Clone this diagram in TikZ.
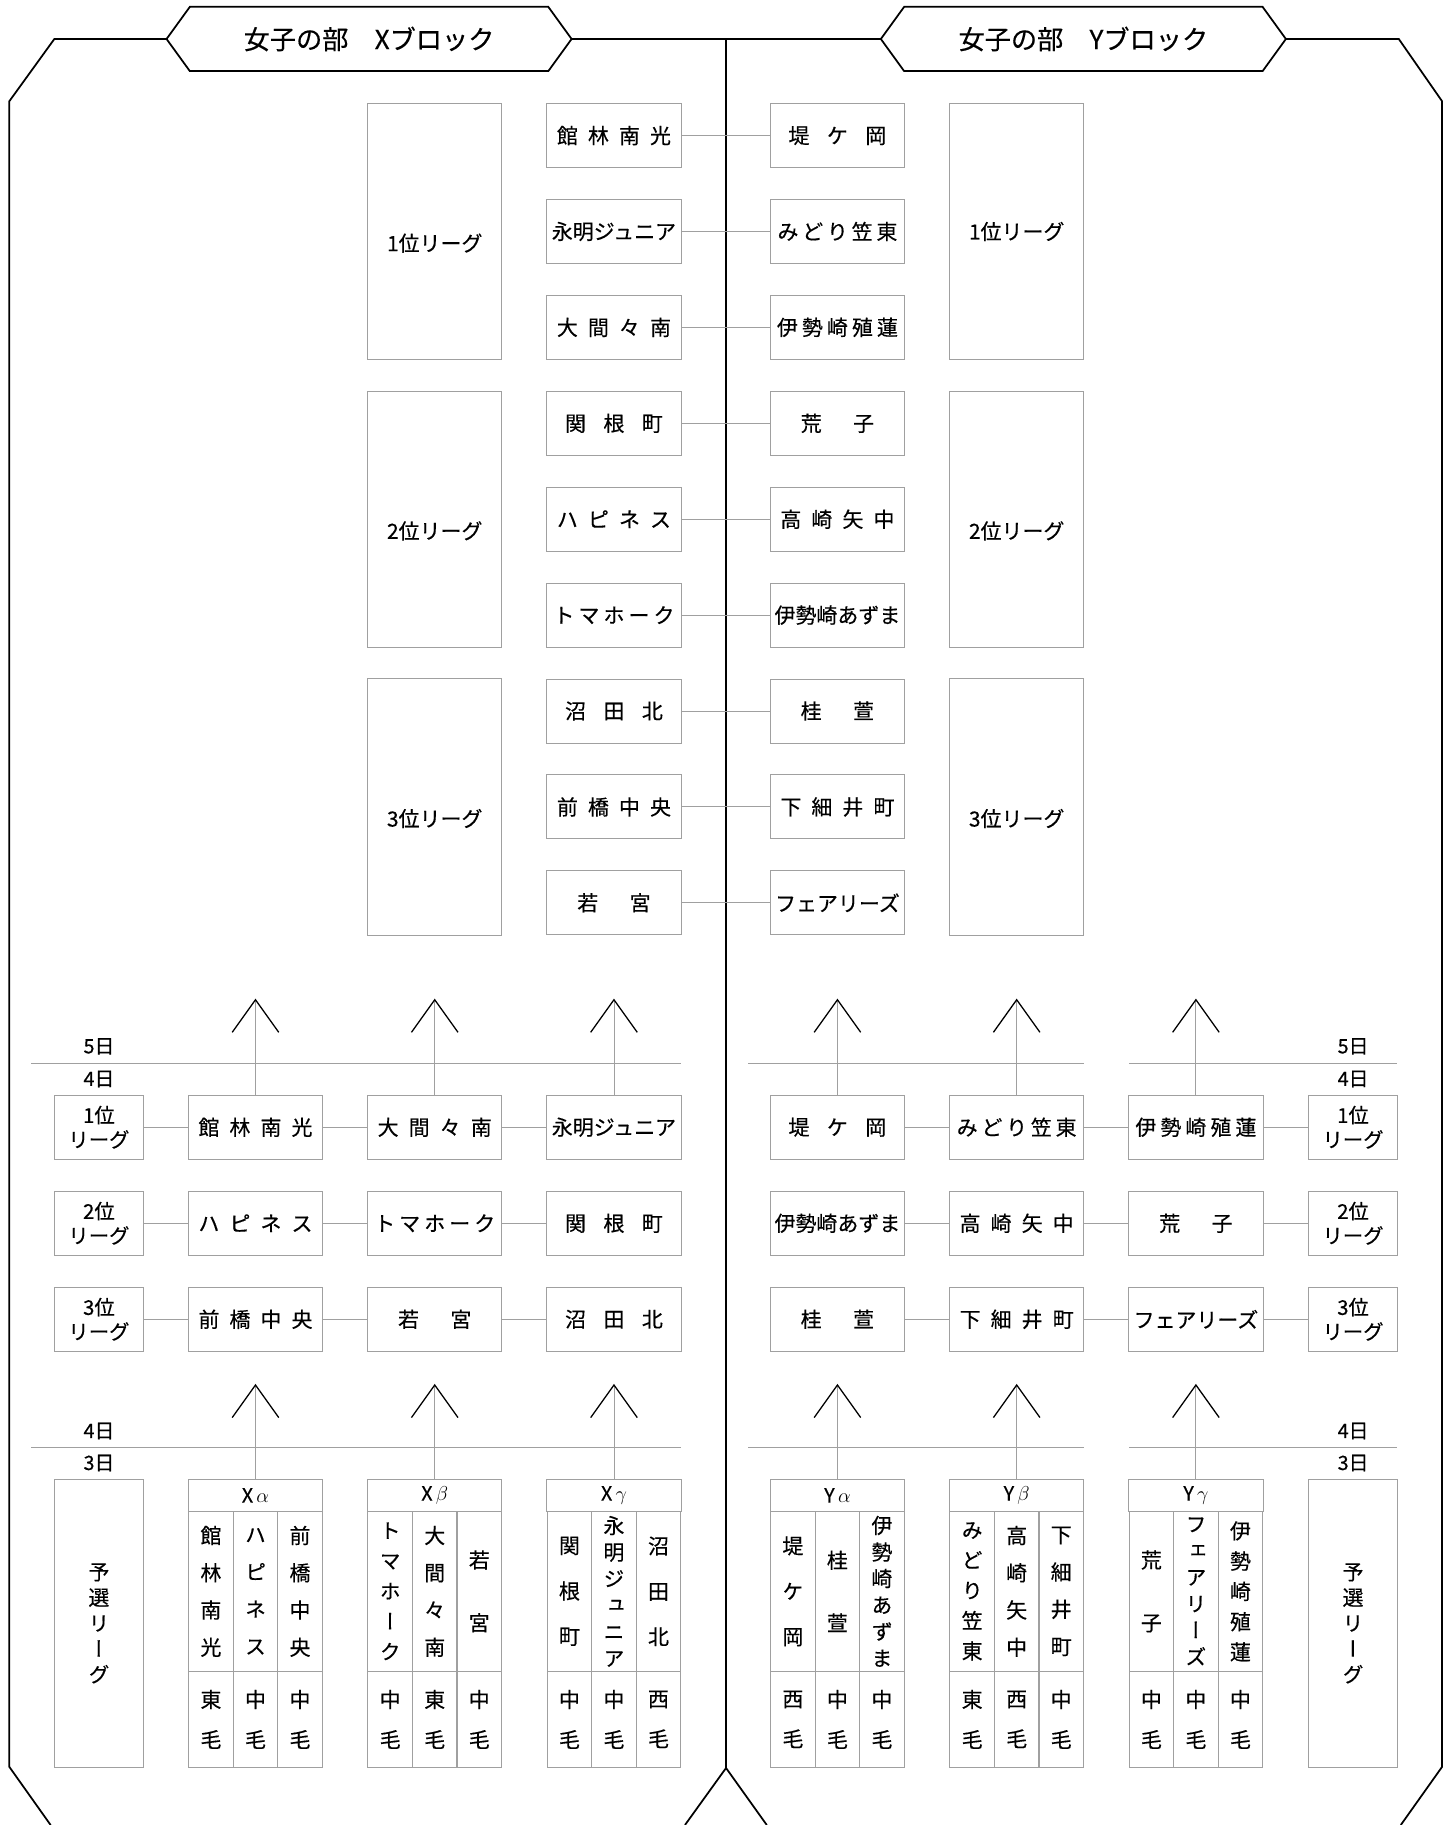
\documentclass[tikz,border=0pt]{standalone}
\usepackage{fontspec}
\newfontfamily\jp[FakeBold=0.4]{Noto Sans CJK JP}
\newfontfamily\jpv[RawFeature=+vert,FakeBold=0.4]{Noto Sans CJK JP}
\usetikzlibrary{arrows.meta}
\definecolor{linegray}{RGB}{160,160,160}
\newcommand\spr[2]{\makebox[#1pt][s]{\spaceskip=0pt plus 1fil\relax#2}}
\newcommand\low[1]{\raisebox{-10pt}[\height][\depth]{#1}}
\tikzset{
  blockline/.style={line width=1.5pt, line join=miter},
  ttl/.style={rectangle, minimum width=308pt, minimum height=55.2pt, inner sep=0pt,
              outer sep=0pt, font=\jp\fontsize{22.5}{26}\selectfont},
  team/.style={draw=linegray, line width=0.8pt, rectangle, minimum width=115.5pt,
               minimum height=55pt, inner sep=0pt, font=\jp\fontsize{18}{21}\selectfont},
  league/.style={team, minimum height=220pt},
  rank/.style={team, minimum width=77pt, align=center, font=\jp\fontsize{17.5}{21}\selectfont},
  ghead/.style={team, minimum height=27.5pt, font=\jp\fontsize{17}{20}\selectfont},
  gcol/.style={team, minimum width=38.5pt, minimum height=137.5pt, align=center,
               font=\jpv\fontsize{18}{#1}\selectfont},
  greg/.style={gcol=34.4, minimum height=82.5pt},
  prelim/.style={gcol=22, minimum width=77pt, minimum height=247.5pt},
  day/.style={inner sep=0pt, font=\jp\fontsize{17}{20}\selectfont},
  link/.style={draw=linegray, line width=0.8pt},
  adv/.style={draw=linegray, line width=0.8pt,
              -{Straight Barb[length=28pt, width=40pt, line width=1.1pt, color=black]}},
}
\begin{document}
\begin{tikzpicture}[x=1pt, y=-1pt]
  \useasboundingbox (0,0) rectangle (1249,1568);
  % block titles and outline
  \node[ttl] (ttlX) at (317.1,33.5) {女子の部　Xブロック};
  \node[ttl] (ttlY) at (930.8,33.5) {女子の部　Yブロック};
  \draw[blockline] (ttlX.north west) -- (ttlX.north east) -- ([xshift=20pt]ttlX.east)
    -- (ttlX.south east) -- (ttlX.south west) -- ([xshift=-20pt]ttlX.west) -- cycle;
  \draw[blockline] (ttlY.north west) -- (ttlY.north east) -- ([xshift=20pt]ttlY.east)
    -- (ttlY.south east) -- (ttlY.south west) -- ([xshift=-20pt]ttlY.west) -- cycle;
  \draw[blockline] ([xshift=-20pt]ttlX.west) -- (46.7,33.5) -- (8,87) -- (8,1518) -- (43.5,1568);
  \draw[blockline] ([xshift=20pt]ttlX.east) -- ([xshift=-20pt]ttlY.west);
  \draw[blockline] ([xshift=20pt]ttlY.east) -- (1201.8,33.5) -- (1239,87) -- (1239,1518) -- (1203.5,1568);
  \draw[blockline] (623.8,33.5) -- (623.8,1519) -- (588.5,1568);
  \draw[blockline] (623.8,1519) -- (658.8,1568);

  % final leagues
  \node[league] (lx1) at (373.5,198.9) {\low{1位リーグ}};
  \node[league] (lx2) at (373.5,446.1) {\low{2位リーグ}};
  \node[league] (lx3) at (373.5,693.3) {\low{3位リーグ}};
  \node[league] (ly1) at (873.5,198.9) {1位リーグ};
  \node[league] (ly2) at (873.5,446.1) {\low{2位リーグ}};
  \node[league] (ly3) at (873.5,693.3) {\low{3位リーグ}};

  \node[team] (sx1) at (527.5,116.5) {\spr{98}{館 林 南 光}};
  \node[team] (sx2) at (527.5,198.9) {永明ジュニア};
  \node[team] (sx3) at (527.5,281.3) {\spr{98}{大 間 々 南}};
  \node[team] (sx4) at (527.5,363.7) {\spr{84}{関 根 町}};
  \node[team] (sx5) at (527.5,446.1) {\spr{98}{ハ ピ ネ ス}};
  \node[team] (sx6) at (527.5,528.5) {\spr{104}{ト マ ホ ー ク}};
  \node[team] (sx7) at (527.5,610.9) {\spr{84}{沼 田 北}};
  \node[team] (sx8) at (527.5,693.3) {\spr{98}{前 橋 中 央}};
  \node[team] (sx9) at (527.5,775.7) {\spr{63}{若 宮}};
  \node[team] (sy1) at (719.5,116.5) {\spr{84}{堤 ケ 岡}};
  \node[team] (sy2) at (719.5,198.9) {\spr{103}{み ど り 笠 東}};
  \node[team] (sy3) at (719.5,281.3) {\spr{104}{伊 勢 崎 殖 蓮}};
  \node[team] (sy4) at (719.5,363.7) {\spr{63}{荒 子}};
  \node[team] (sy5) at (719.5,446.1) {\spr{98}{高 崎 矢 中}};
  \node[team] (sy6) at (719.5,528.5) {伊勢崎あずま};
  \node[team] (sy7) at (719.5,610.9) {\spr{63}{桂 萱}};
  \node[team] (sy8) at (719.5,693.3) {\spr{98}{下 細 井 町}};
  \node[team] (sy9) at (719.5,775.7) {フェアリーズ};
  \draw[link] (sx1) -- (sy1);
  \draw[link] (sx2) -- (sy2);
  \draw[link] (sx3) -- (sy3);
  \draw[link] (sx4) -- (sy4);
  \draw[link] (sx5) -- (sy5);
  \draw[link] (sx6) -- (sy6);
  \draw[link] (sx7) -- (sy7);
  \draw[link] (sx8) -- (sy8);
  \draw[link] (sx9) -- (sy9);

  % day 4 / day 5
  \node[day] (dx5) at (85,899) {5日};
  \node[day] (dx4) at (85,927) {4日};
  \node[day] (dy5) at (1162.5,899) {5日};
  \node[day] (dy4) at (1162.5,927) {4日};
  \draw[link] (27,913.4) -- (585,913.4);
  \draw[link] (643,913.4) -- (931,913.4);
  \draw[link] (970,913.4) -- (1200.5,913.4);

  \node[rank] (bxr1) at (85,968.5)  {1位\\リーグ};
  \node[rank] (bxr2) at (85,1051)   {2位\\リーグ};
  \node[rank] (bxr3) at (85,1133.5) {3位\\リーグ};
  \node[team] (bx1a) at (219.5,968.5)  {\spr{98}{館 林 南 光}};
  \node[team] (bx1b) at (373.5,968.5)  {\spr{98}{大 間 々 南}};
  \node[team] (bx1c) at (527.5,968.5)  {永明ジュニア};
  \node[team] (bx2a) at (219.5,1051)   {\spr{98}{ハ ピ ネ ス}};
  \node[team] (bx2b) at (373.5,1051)   {\spr{104}{ト マ ホ ー ク}};
  \node[team] (bx2c) at (527.5,1051)   {\spr{84}{関 根 町}};
  \node[team] (bx3a) at (219.5,1133.5) {\spr{98}{前 橋 中 央}};
  \node[team] (bx3b) at (373.5,1133.5) {\spr{63}{若 宮}};
  \node[team] (bx3c) at (527.5,1133.5) {\spr{84}{沼 田 北}};
  \node[team] (by1a) at (719.5,968.5)  {\spr{84}{堤 ケ 岡}};
  \node[team] (by1b) at (873.5,968.5)  {\spr{103}{み ど り 笠 東}};
  \node[team] (by1c) at (1027.5,968.5) {\spr{104}{伊 勢 崎 殖 蓮}};
  \node[team] (by2a) at (719.5,1051)   {伊勢崎あずま};
  \node[team] (by2b) at (873.5,1051)   {\spr{98}{高 崎 矢 中}};
  \node[team] (by2c) at (1027.5,1051)  {\spr{63}{荒 子}};
  \node[team] (by3a) at (719.5,1133.5) {\spr{63}{桂 萱}};
  \node[team] (by3b) at (873.5,1133.5) {\spr{98}{下 細 井 町}};
  \node[team] (by3c) at (1027.5,1133.5) {フェアリーズ};
  \node[rank] (byr1) at (1162.5,968.5)  {1位\\リーグ};
  \node[rank] (byr2) at (1162.5,1051)   {2位\\リーグ};
  \node[rank] (byr3) at (1162.5,1133.5) {3位\\リーグ};
  \draw[link] (bxr1) -- (bx1a);
  \draw[link] (bx1a) -- (bx1b);
  \draw[link] (bx1b) -- (bx1c);
  \draw[link] (bxr2) -- (bx2a);
  \draw[link] (bx2a) -- (bx2b);
  \draw[link] (bx2b) -- (bx2c);
  \draw[link] (bxr3) -- (bx3a);
  \draw[link] (bx3a) -- (bx3b);
  \draw[link] (bx3b) -- (bx3c);
  \draw[link] (by1a) -- (by1b);
  \draw[link] (by1b) -- (by1c);
  \draw[link] (by1c) -- (byr1);
  \draw[link] (by2a) -- (by2b);
  \draw[link] (by2b) -- (by2c);
  \draw[link] (by2c) -- (byr2);
  \draw[link] (by3a) -- (by3b);
  \draw[link] (by3b) -- (by3c);
  \draw[link] (by3c) -- (byr3);

  \coordinate (ux1) at (219.5,858);
  \coordinate (ux2) at (373.5,858);
  \coordinate (ux3) at (527.5,858);
  \coordinate (uy1) at (719.5,858);
  \coordinate (uy2) at (873.5,858);
  \coordinate (uy3) at (1027.5,858);
  \draw[adv] (bx1a) -- (ux1);
  \draw[adv] (bx1b) -- (ux2);
  \draw[adv] (bx1c) -- (ux3);
  \draw[adv] (by1a) -- (uy1);
  \draw[adv] (by1b) -- (uy2);
  \draw[adv] (by1c) -- (uy3);

  % day 3 / day 4
  \node[day] (dx4b) at (85,1229.5) {4日};
  \node[day] (dx3)  at (85,1257)   {3日};
  \node[day] (dy4b) at (1162.5,1229.5) {4日};
  \node[day] (dy3)  at (1162.5,1257)   {3日};
  \draw[link] (27,1243.6) -- (585,1243.6);
  \draw[link] (643,1243.6) -- (931,1243.6);
  \draw[link] (970,1243.6) -- (1200.5,1243.6);

  \node[prelim] (px) at (85,1394.75)     {予\\選\\リ\\ー\\グ};
  \node[prelim] (py) at (1162.5,1394.75) {予\\選\\リ\\ー\\グ};

  \node[ghead] (gxa) at (219.5,1284.75) {X\,$\alpha$};
  \node[gcol=32]   (gxa1) at (181.25,1367.25) {館\\林\\南\\光};
  \node[gcol=32]   (gxa2) at (219.5,1367.25)  {ハ\\ピ\\ネ\\ス};
  \node[gcol=32]   (gxa3) at (257.75,1367.25) {前\\橋\\中\\央};
  \node[greg] (gxa4) at (181.25,1477.25) {東\\毛};
  \node[greg] (gxa5) at (219.5,1477.25)  {中\\毛};
  \node[greg] (gxa6) at (257.75,1477.25) {中\\毛};

  \node[ghead] (gxb) at (373.5,1284.75) {X\,$\beta$};
  \node[gcol=26]   (gxb1) at (335.25,1367.25) {ト\\マ\\ホ\\ー\\ク};
  \node[gcol=32]   (gxb2) at (373.5,1367.25)  {大\\間\\々\\南};
  \node[gcol=54]   (gxb3) at (411.75,1367.25) {若\\宮};
  \node[greg] (gxb4) at (335.25,1477.25) {中\\毛};
  \node[greg] (gxb5) at (373.5,1477.25)  {東\\毛};
  \node[greg] (gxb6) at (411.75,1477.25) {中\\毛};

  \node[ghead] (gxc) at (527.5,1284.75) {X\,$\gamma$};
  \node[gcol=39]   (gxc1) at (489.25,1367.25) {関\\根\\町};
  \node[gcol=22.8] (gxc2) at (527.5,1367.25)  {永\\明\\ジ\\ュ\\ニ\\ア};
  \node[gcol=39]   (gxc3) at (565.75,1367.25) {沼\\田\\北};
  \node[greg] (gxc4) at (489.25,1477.25) {中\\毛};
  \node[greg] (gxc5) at (527.5,1477.25)  {中\\毛};
  \node[greg] (gxc6) at (565.75,1477.25) {西\\毛};

  \node[ghead] (gya) at (719.5,1284.75) {Y\,$\alpha$};
  \node[gcol=39]   (gya1) at (681.25,1367.25) {堤\\ケ\\岡};
  \node[gcol=54]   (gya2) at (719.5,1367.25)  {桂\\萱};
  \node[gcol=22.8] (gya3) at (757.75,1367.25) {伊\\勢\\崎\\あ\\ず\\ま};
  \node[greg] (gya4) at (681.25,1477.25) {西\\毛};
  \node[greg] (gya5) at (719.5,1477.25)  {中\\毛};
  \node[greg] (gya6) at (757.75,1477.25) {中\\毛};

  \node[ghead] (gyb) at (873.5,1284.75) {Y\,$\beta$};
  \node[gcol=26]   (gyb1) at (835.25,1367.25) {み\\ど\\り\\笠\\東};
  \node[gcol=32]   (gyb2) at (873.5,1367.25)  {高\\崎\\矢\\中};
  \node[gcol=32]   (gyb3) at (911.75,1367.25) {下\\細\\井\\町};
  \node[greg] (gyb4) at (835.25,1477.25) {東\\毛};
  \node[greg] (gyb5) at (873.5,1477.25)  {西\\毛};
  \node[greg] (gyb6) at (911.75,1477.25) {中\\毛};

  \node[ghead] (gyc) at (1027.5,1284.75) {Y\,$\gamma$};
  \node[gcol=54]   (gyc1) at (989.25,1367.25)  {荒\\子};
  \node[gcol=22.8] (gyc2) at (1027.5,1367.25)  {フ\\ェ\\ア\\リ\\ー\\ズ};
  \node[gcol=26]   (gyc3) at (1065.75,1367.25) {伊\\勢\\崎\\殖\\蓮};
  \node[greg] (gyc4) at (989.25,1477.25)  {中\\毛};
  \node[greg] (gyc5) at (1027.5,1477.25)  {中\\毛};
  \node[greg] (gyc6) at (1065.75,1477.25) {中\\毛};

  \coordinate (vx1) at (219.5,1189);
  \coordinate (vx2) at (373.5,1189);
  \coordinate (vx3) at (527.5,1189);
  \coordinate (vy1) at (719.5,1189);
  \coordinate (vy2) at (873.5,1189);
  \coordinate (vy3) at (1027.5,1189);
  \draw[adv] (gxa) -- (vx1);
  \draw[adv] (gxb) -- (vx2);
  \draw[adv] (gxc) -- (vx3);
  \draw[adv] (gya) -- (vy1);
  \draw[adv] (gyb) -- (vy2);
  \draw[adv] (gyc) -- (vy3);
\end{tikzpicture}
\end{document}
